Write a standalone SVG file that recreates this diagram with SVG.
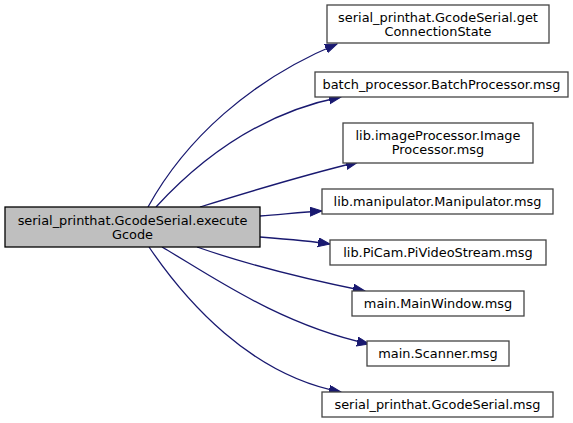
<svg xmlns="http://www.w3.org/2000/svg" width="573" height="423" viewBox="0 0 573 423">
<style>
.n rect{fill:#ffffff;stroke:#444444;stroke-width:1.3}
.root rect{fill:#bfbfbf;stroke:#000000}
text{font-family:"DejaVu Sans",sans-serif;font-size:12.9px;fill:#000;text-anchor:middle}
.e path{fill:none;stroke:#191970;stroke-width:1.3;marker-end:url(#ah)}
</style>
<defs>
<marker id="ah" markerUnits="userSpaceOnUse" markerWidth="13" markerHeight="10" refX="12" refY="4.5" orient="auto">
<path d="M0,0 L12,4.5 L0,9 z" fill="#191970" stroke="#191970"/>
</marker>
</defs>
<g id="edges" class="e">
<path d="M148,207 C185,140 250,80 337,44"/>
<path d="M156,207 C190,170 250,115 341,97"/>
<path d="M200,207 C245,193 300,176 358,162"/>
<path d="M260,216 C285,214 305,212 322,211"/>
<path d="M260,237 C285,239 310,241 330,244"/>
<path d="M197,247 C240,262 300,278 365,291"/>
<path d="M162,247 C210,275 280,325 369,344"/>
<path d="M149,247 C185,300 250,375 341,392"/>
</g>
<g id="root" class="n root"><rect x="5" y="207" width="255" height="40"/><text x="132.5" y="225">serial_printhat.GcodeSerial.execute</text><text x="132.5" y="239">Gcode</text></g>
<g id="n1" class="n"><rect x="327" y="5" width="222" height="38"/><text x="438" y="22">serial_printhat.GcodeSerial.get</text><text x="438" y="36">ConnectionState</text></g>
<g id="n2" class="n"><rect x="315" y="72" width="253" height="25"/><text x="441.5" y="89">batch_processor.BatchProcessor.msg</text></g>
<g id="n3" class="n"><rect x="343" y="123" width="190" height="40"/><text x="438" y="139.5">lib.imageProcessor.Image</text><text x="438" y="153.5">Processor.msg</text></g>
<g id="n4" class="n"><rect x="322" y="189" width="231" height="25"/><text x="437.5" y="206">lib.manipulator.Manipulator.msg</text></g>
<g id="n5" class="n"><rect x="330" y="240" width="216" height="25"/><text x="438" y="257">lib.PiCam.PiVideoStream.msg</text></g>
<g id="n6" class="n"><rect x="352" y="291" width="172" height="25"/><text x="438" y="308">main.MainWindow.msg</text></g>
<g id="n7" class="n"><rect x="367" y="341" width="142" height="25"/><text x="438" y="358">main.Scanner.msg</text></g>
<g id="n8" class="n"><rect x="322" y="392" width="231" height="25"/><text x="437.5" y="409">serial_printhat.GcodeSerial.msg</text></g>
</svg>
